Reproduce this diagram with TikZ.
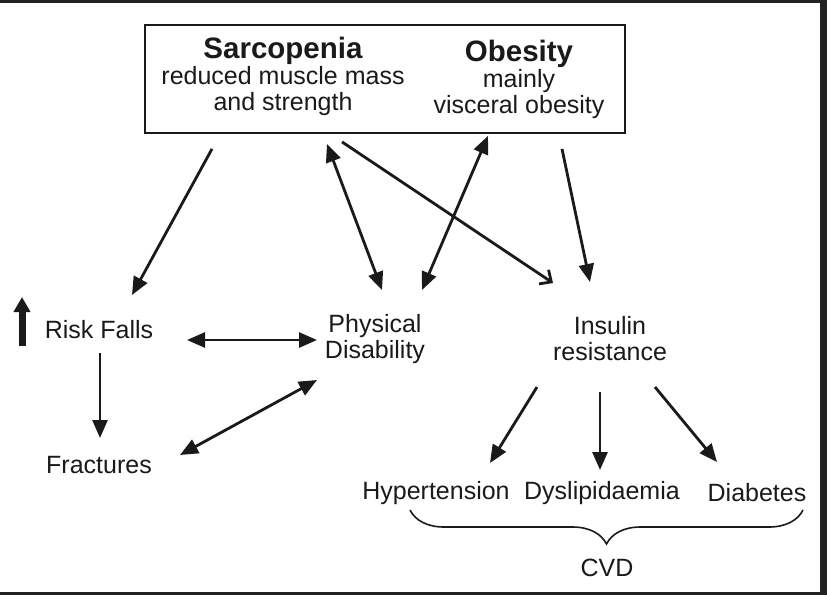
\documentclass[tikz,border=0pt]{standalone}
\usepackage{fontspec}
\setmainfont{Liberation Sans}
\usetikzlibrary{arrows.meta,calc,decorations.pathreplacing}
\definecolor{framegray}{HTML}{222222}
\definecolor{inkcol}{HTML}{1A1A1A}
\tikzset{
  lbl/.style={font=\fontsize{25}{26}\selectfont, text=inkcol, align=center, inner sep=0pt},
  conn/.style={draw=inkcol, line width=2.8pt, -{Triangle[length=18pt,width=15pt]}},
  dconn/.style={draw=inkcol, line width=2.8pt, {Triangle[length=18pt,width=15pt]}-{Triangle[length=18pt,width=15pt]}},
  oconn/.style={draw=inkcol, line width=2.8pt, -{Straight Barb[length=9pt,width=17pt,line width=2.8pt]}},
}
\begin{document}
\begin{tikzpicture}[x=1pt,y=-1pt]
\useasboundingbox (0,0) rectangle (827,595);
\fill[white] (0,0) rectangle (827,595);
% dark frame of the screenshot
\fill[framegray] (0,0) rectangle (827,3);
\fill[framegray] (820,0) rectangle (827,595);
\fill[framegray] (0,592) rectangle (827,595);

% top box
\node[draw=inkcol, line width=1.8pt, minimum width=480pt, minimum height=108pt, inner sep=0pt] (box) at (385,79) {};
\node[lbl] (sarc) at (283,76) {{\fontsize{29.5}{30}\selectfont\bfseries Sarcopenia}\\reduced muscle mass\\and strength};
\node[lbl] (obes) at (519,79) {{\fontsize{29.5}{30}\selectfont\bfseries Obesity}\\mainly\\visceral obesity};

% middle row
\node[lbl] (risk) at (99,330) {Risk Falls};
\node[lbl] (frac) at (99,465) {Fractures};
\node[lbl] (phys) at (375,339) {Physical\\Disability};
\node[lbl] (ins) at (610,339) {Insulin\\resistance};

% bottom row
\node[lbl] (hyp) at (436,493) {Hypertension};
\node[lbl] (dys) at (602,493) {Dyslipidaemia};
\node[lbl] (dia) at (757,493) {Diabetes};
\node[lbl] (cvd) at (607,568) {CVD};

% thick up arrow beside Risk Falls
\coordinate (upA) at (22,346);
\coordinate (upB) at (22,297);
\draw[draw=inkcol, line width=7pt, -{Triangle[length=15pt,width=16pt]}] (upA) -- (upB);

% connectors from the box
\draw[conn] ($(box.south)+(-173,15)$) -- ($(risk)+(33,-35)$);
\draw[dconn] ($(box.south)+(-58,10)$) -- ($(phys)+(7,-49)$);
\draw[oconn] ($(box.south)+(-43,8)$) -- ($(ins)+(-57,-56)$);
\draw[dconn] ($(box.south)+(103,2)$) -- ($(phys)+(47,-49)$);
\draw[conn] ($(box.south)+(177,15)$) -- ($(ins)+(-20,-57)$);

% left side
\draw[dconn] ($(risk)+(88,10)$) -- ($(phys)+(-58,1)$);
\draw[conn] ($(risk)+(1,23)$) -- ($(frac)+(1,-27)$);
\draw[dconn] ($(frac)+(81,-10)$) -- ($(phys)+(-58,41)$);

% insulin resistance outcomes
\draw[conn] ($(ins)+(-73,48)$) -- ($(hyp)+(54,-30)$);
\draw[conn] ($(ins)+(-10,53)$) -- ($(dys)+(-2,-23)$);
\draw[conn] ($(ins)+(45,48)$) -- ($(dia)+(-40,-31)$);

% brace
\draw[draw=inkcol, line width=1.6pt, decorate, decoration={brace, mirror, amplitude=34pt, aspect=0.5}]
  (410,510) -- (803,510);
\end{tikzpicture}
\end{document}
